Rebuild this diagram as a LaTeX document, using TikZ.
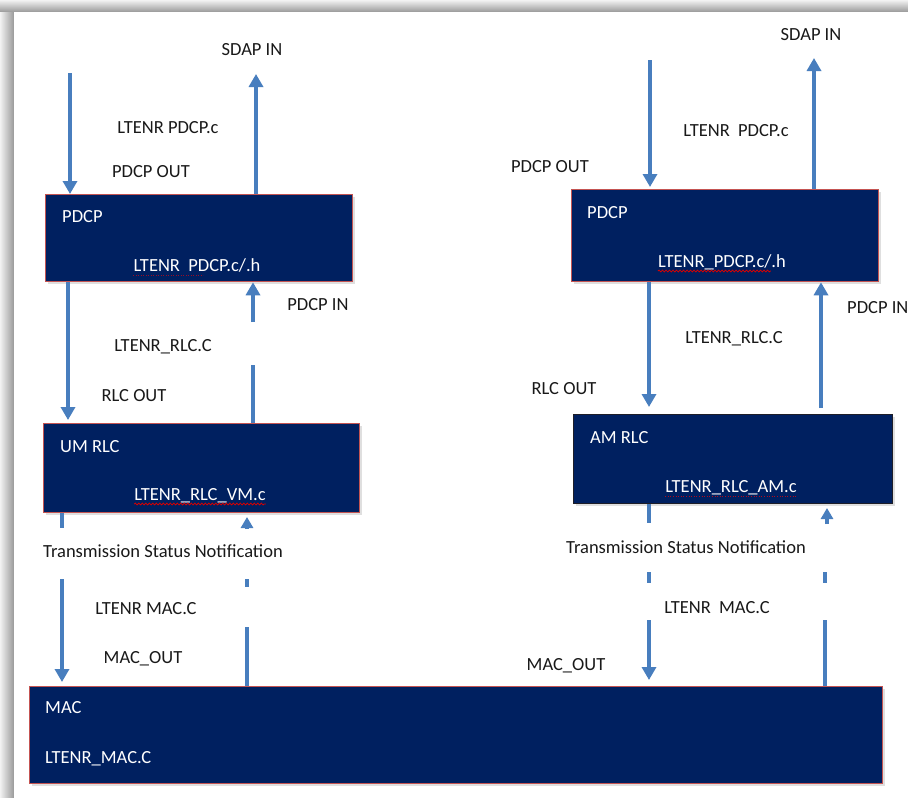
\documentclass[tikz,border=0pt]{standalone}
\usepackage{fontspec}
\setmainfont{Carlito}
\usetikzlibrary{arrows.meta,calc,shadows,decorations.pathmorphing}
\definecolor{navy}{RGB}{0,32,96}
\definecolor{boxred}{RGB}{196,84,82}
\definecolor{boxdark}{RGB}{30,30,40}
\definecolor{arr}{RGB}{72,126,190}
\definecolor{txt}{RGB}{25,25,25}
\begin{document}
\begin{tikzpicture}[x=1pt,y=-1pt,
  blk/.style={draw=boxred, line width=1.3pt, fill=navy, anchor=north west, inner sep=0pt,
    drop shadow={shadow xshift=2pt, shadow yshift=-2pt, opacity=0.25}},
  lbl/.style={text=txt, font=\fontsize{18.5}{22}\selectfont, inner sep=0pt},
  wlbl/.style={text=white, font=\fontsize{18.5}{22}\selectfont, inner sep=0pt},
  flow/.style={draw=arr, line width=4.5pt},
  flowa/.style={flow, -{Triangle[width=14pt,length=13pt]}},
  flowb/.style={flow, -{Triangle[width=12pt,length=11pt]}},
  wavy/.style={draw=red!85!black, line width=0.8pt, decorate,
    decoration={snake, amplitude=0.9pt, segment length=3.5pt}}
]
% page and frame
\useasboundingbox (0,0) rectangle (908,798);
\fill[white] (0,0) rectangle (908,798);
\shade[top color=gray!10, bottom color=gray!80] (0,0) rectangle (908,12);
\shade[left color=gray!10, right color=gray!80] (0,12) rectangle (14,798);
\fill[white] (14,12) rectangle (908,798);

% boxes
\node[blk, minimum width=307pt, minimum height=87pt] (pdcpL) at (45,194) {};
\node[blk, minimum width=316pt, minimum height=89pt] (umrlc) at (43,423) {};
\node[blk, minimum width=307pt, minimum height=92pt] (pdcpR) at (571,189) {};
\node[blk, draw=boxdark, minimum width=319pt, minimum height=89pt] (amrlc) at (573,414) {};
\node[blk, minimum width=853pt, minimum height=97pt] (mac) at (29,686) {};

% box texts
\node[wlbl, anchor=base west] (tPdcpL) at (62,222) {PDCP};
\node[wlbl, anchor=base] (fPdcpL) at (197,271) {LTENR\ \ PDCP.c/.h};
\node[wlbl, anchor=base west] (tUm) at (60,452) {UM RLC};
\node[wlbl, anchor=base] (fUm) at (200,500) {LTENR\_RLC\_VM.c};
\node[wlbl, anchor=base west] (tPdcpR) at (587,218) {PDCP};
\node[wlbl, anchor=base] (fPdcpR) at (722,267) {LTENR\_PDCP.c/.h};
\node[wlbl, anchor=base west] (tAm) at (590,443) {AM RLC};
\node[wlbl, anchor=base] (fAm) at (731,492) {LTENR\_RLC\_AM.c};
\node[wlbl, anchor=base west] (tMac) at (45,713) {MAC};
\node[wlbl, anchor=base west] (fMac) at (45,763) {LTENR\_MAC.C};

% spelling underlines
\draw[wavy] ($(fUm.base west)+(0,4)$) -- ($(fUm.base east)+(0,4)$);
\draw[wavy] ($(fPdcpR.base west)+(0,4)$) -- ($(fPdcpR.base west)+(113,4)$);
\draw[red!70!navy, line width=0.6pt, dotted] ($(fAm.base west)+(0,4)$) -- ($(fAm.base east)+(0,4)$);
\draw[red!60!navy, line width=0.5pt, dotted] ($(fPdcpL.base west)+(0,4)$) -- ($(fPdcpL.base west)+(70,4)$);

% labels left
\node[lbl, anchor=base] (sdapL) at (252,55) {SDAP IN};
\node[lbl, anchor=base] (lpL) at (168,133) {LTENR PDCP.c};
\node[lbl, anchor=base] (poL) at (151,177) {PDCP OUT};
\node[lbl, anchor=base] (piL) at (318,310) {PDCP IN};
\node[lbl, anchor=base] (lrL) at (163,351) {LTENR\_RLC.C};
\node[lbl, anchor=base] (roL) at (134,401) {RLC OUT};
\node[lbl, anchor=base west] (tsL) at (43,557) {Transmission Status Notification};
\node[lbl, anchor=base] (lmL) at (146,614) {LTENR MAC.C};
\node[lbl, anchor=base] (moL) at (143,663) {MAC\_OUT};

% labels right
\node[lbl, anchor=base] (sdapR) at (811,40) {SDAP IN};
\node[lbl, anchor=base] (lpR) at (736,136) {LTENR\ \ PDCP.c};
\node[lbl, anchor=base] (poR) at (550,172) {PDCP OUT};
\node[lbl, anchor=base west] (piR) at (847,313) {PDCP IN};
\node[lbl, anchor=base] (lrR) at (734,343) {LTENR\_RLC.C};
\node[lbl, anchor=base] (roR) at (564,394) {RLC OUT};
\node[lbl, anchor=base] (tsR) at (686,553) {Transmission Status Notification};
\node[lbl, anchor=base] (lmR) at (717,613) {LTENR\ \ MAC.C};
\node[lbl, anchor=base] (moR) at (566,670) {MAC\_OUT};

% coordinates for free ends and breaks
\coordinate (a1) at (70,73);
\coordinate (a2) at (256,74);
\coordinate (a3) at (68,300);
\coordinate (a4a) at (253,365);
\coordinate (a4b) at (253,322);
\coordinate (a5a) at (62,528);
\coordinate (a5b) at (62,579);
\coordinate (a6a) at (247,627);
\coordinate (a6d1) at (247,579);
\coordinate (a6d2) at (247,587);
\coordinate (a6b) at (247,529);
\coordinate (a6t) at (247,517);

\coordinate (b1) at (650,60);
\coordinate (b2) at (814,58);
\coordinate (b3) at (649,300);
\coordinate (b4) at (821,300);
\coordinate (b5a) at (649,523);
\coordinate (b5d1) at (649,572);
\coordinate (b5d2) at (649,583);
\coordinate (b5b) at (649,620);
\coordinate (b6a) at (825,620);
\coordinate (b6d1) at (825,572);
\coordinate (b6d2) at (825,583);
\coordinate (b6b) at (827,524);
\coordinate (b6t) at (827,508);

% left column connectors
\draw[flowa] (a1) -- (a1 |- pdcpL.north);
\draw[flowa] (a2 |- pdcpL.north) -- (a2);
\draw[flowa, shorten >=3pt] (a3 |- pdcpL.south) -- (a3 |- umrlc.north);
\draw[flow] (a4a |- umrlc.north) -- (a4a);
\draw[flowa] (a4b) -- (a4b |- pdcpL.south);
\draw[flow] (a5a |- umrlc.south) -- (a5a);
\draw[flowa, shorten >=4pt] (a5b) -- (a5b |- mac.north);
\draw[flow] (a6a |- mac.north) -- (a6a);
\draw[flow] (a6d1) -- (a6d2);
\draw[flowb] (a6b) -- (a6t);

% right column connectors
\draw[flowa, shorten >=2pt] (b1) -- (b1 |- pdcpR.north);
\draw[flowa] (b2 |- pdcpR.north) -- (b2);
\draw[flowa, shorten >=7pt] (b3 |- pdcpR.south) -- (b3 |- amrlc.north);
\draw[flowa, shorten <=6pt] (b4 |- amrlc.north) -- (b4 |- pdcpR.south);
\draw[flow] (b5a |- amrlc.south) -- (b5a);
\draw[flow] (b5d1) -- (b5d2);
\draw[flowa, shorten >=6pt] (b5b) -- (b5b |- mac.north);
\draw[flow] (b6a |- mac.north) -- (b6a);
\draw[flow] (b6d1) -- (b6d2);
\draw[flowb] (b6b) -- (b6t);
\end{tikzpicture}
\end{document}
